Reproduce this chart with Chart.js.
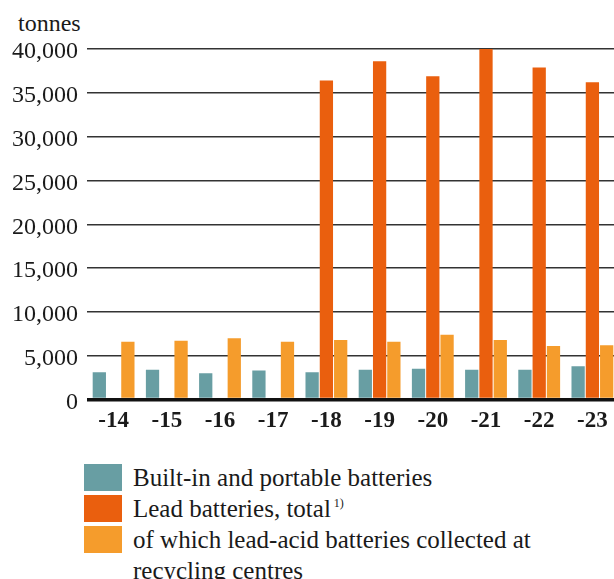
<!DOCTYPE html>
<html>
<head>
<meta charset="utf-8">
<script src="https://cdn.jsdelivr.net/npm/chart.js@4.4.1/dist/chart.umd.min.js"></script>
<style>
  html, body { margin: 0; padding: 0; background: #fff; overflow: hidden; }
  #wrap { position: relative; width: 614px; height: 579px; overflow: hidden;
          font-family: "Liberation Serif", "DejaVu Serif", serif; color: #1a1a1a; }
  #unit { position: absolute; left: 18px; top: 11px; font-size: 24px; line-height: 24px; }
  #chart { position: absolute; left: 0; top: 0; }
  #legend { position: absolute; left: 84px; top: 462px; font-size: 25px; line-height: 31px; }
  .row { display: flex; align-items: flex-start; }
  .sw { width: 38px; height: 27px; margin-top: 2px; margin-right: 11px; flex: none; }
  .txt { width: 420px; }
  .txt sup { font-size: 12px; vertical-align: 10px; line-height: 0; margin-left: 3px; }
</style>
</head>
<body>
<div id="wrap">
  <div id="unit">tonnes</div>
  <canvas id="chart" width="620" height="440"></canvas>
  <div id="legend"></div>
</div>
<script>
// Years (20xx) shown on the x axis
const years = ['-14', '-15', '-16', '-17', '-18', '-19', '-20', '-21', '-22', '-23'];

// Collected batteries, tonnes
const builtInPortable = [3100, 3400, 3000, 3300, 3100, 3400, 3500, 3400, 3400, 3800];
const leadTotal       = [null, null, null, null, 36400, 38600, 36900, 40000, 37900, 36200];
const leadAcidCentres = [6600, 6700, 7000, 6600, 6800, 6600, 7400, 6800, 6100, 6200];

// Series names and footnote markers
const seriesNames = [
  'Built-in and portable batteries',
  'Lead batteries, total',
  'of which lead-acid batteries collected at recycling centres'
];
const seriesNotes = ['', '1)', ''];
const seriesColors = ['#689ea3', '#ea5f0e', '#f59c2c'];

// y-axis tick values
const yTicks = [0, 5000, 10000, 15000, 20000, 25000, 30000, 35000, 40000];

const seriesValues = [builtInPortable, leadTotal, leadAcidCentres];

const chart = new Chart(document.getElementById('chart'), {
  type: 'bar',
  data: {
    labels: years,
    datasets: seriesValues.map((vals, i) => ({
      label: seriesNames[i],
      data: vals,
      backgroundColor: seriesColors[i],
      borderWidth: 0,
      categoryPercentage: 0.805,
      barPercentage: 0.93
    }))
  },
  options: {
    responsive: false,
    animation: false,
    devicePixelRatio: 1,
    layout: { padding: { top: 49, right: 1, left: 0, bottom: 0 } },
    plugins: { legend: { display: false }, tooltip: { enabled: false } },
    scales: {
      x: {
        grid: { display: false, drawTicks: false },
        border: { display: false },
        ticks: {
          padding: 8,
          color: '#1a1a1a',
          font: { family: '"Liberation Serif", serif', size: 23, weight: 'bold' }
        },
        afterFit: s => { s.height = 40.5; }
      },
      y: {
        min: 0,
        max: 40000,
        afterBuildTicks: s => { s.ticks = yTicks.map(v => ({ value: v })); },
        grid: {
          drawTicks: false,
          color: c => c.tick && c.tick.value === 0 ? '#111' : '#333',
          lineWidth: c => c.tick && c.tick.value === 0 ? 3.5 : 1.5
        },
        border: { display: false },
        ticks: {
          padding: 9,
          labelOffset: 3,
          color: '#1a1a1a',
          font: { family: '"Liberation Serif", serif', size: 24 },
          callback: v => v.toLocaleString('en-US')
        },
        afterFit: s => { s.width = 87; }
      }
    }
  }
});

// HTML legend built from the chart's datasets
const legend = document.getElementById('legend');
chart.data.datasets.forEach((ds, i) => {
  const row = document.createElement('div');
  row.className = 'row';
  const sw = document.createElement('div');
  sw.className = 'sw';
  sw.style.background = ds.backgroundColor;
  const txt = document.createElement('div');
  txt.className = 'txt';
  txt.textContent = ds.label;
  if (seriesNotes[i]) {
    const sup = document.createElement('sup');
    sup.textContent = seriesNotes[i];
    txt.appendChild(sup);
  }
  row.appendChild(sw);
  row.appendChild(txt);
  legend.appendChild(row);
});
</script>
</body>
</html>
